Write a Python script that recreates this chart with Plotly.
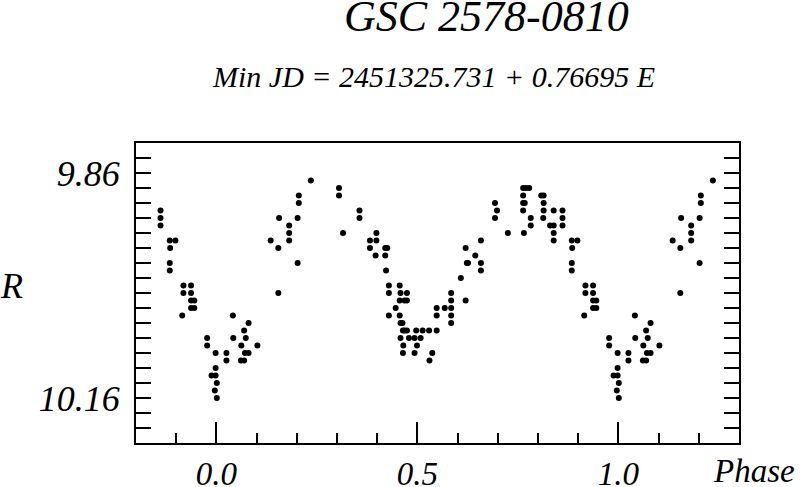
import plotly.graph_objects as go

# Phased light curve of GSC 2578-0810 (phase 0..1, R magnitude)
phase = [
    0.001, 0.001, 0.996, 0.998, 0.998, 0.998, 0.988, 0.977, 0.977,
    0.025, 0.025, 0.041, 0.042, 0.062, 0.069, 0.073, 0.080, 0.071, 0.080,
    0.061, 0.069, 0.102, 0.135, 0.154, 0.156, 0.154, 0.181, 0.181, 0.181,
    0.202, 0.202, 0.205, 0.205, 0.235,
    0.305, 0.305, 0.315, 0.356, 0.356, 0.398, 0.382, 0.398, 0.382,
    0.420, 0.425, 0.396, 0.420, 0.422, 0.429, 0.456,
    0.429, 0.458, 0.474, 0.456, 0.468, 0.474, 0.446, 0.429, 0.456,
    0.458, 0.463, 0.464, 0.468, 0.474, 0.497, 0.513, 0.529, 0.548,
    0.458, 0.479, 0.493, 0.508, 0.465, 0.499, 0.464, 0.493, 0.537, 0.530,
    0.548, 0.568, 0.584, 0.548, 0.584, 0.584, 0.584, 0.584,
    0.608, 0.620, 0.620, 0.623, 0.626, 0.644, 0.658, 0.658, 0.658,
    0.693, 0.698, 0.693, 0.725,
    0.763, 0.770, 0.778, 0.763, 0.763, 0.767, 0.763, 0.782, 0.782, 0.765,
    0.808, 0.814, 0.814, 0.814, 0.813, 0.839, 0.830, 0.839, 0.839, 0.839,
    0.861, 0.861, 0.861, 0.884, 0.898, 0.885, 0.884, 0.884,
    0.918, 0.937, 0.918, 0.937, 0.937, 0.945, 0.937, 0.945, 0.915,
]
mag = [
    10.14, 10.16, 10.15, 10.10, 10.12, 10.13, 10.13, 10.08, 10.09,
    10.10, 10.11, 10.05, 10.08, 10.09, 10.07, 10.08, 10.06, 10.10, 10.10,
    10.11, 10.11, 10.09, 9.95, 9.96, 9.92, 10.02, 9.93, 9.94, 9.95,
    9.92, 9.98, 9.89, 9.90, 9.87,
    9.88, 9.89, 9.94, 9.91, 9.92, 9.94, 9.95, 9.95, 9.96,
    9.96, 9.96, 9.97, 9.97, 9.99, 10.01, 10.01,
    10.02, 10.02, 10.02, 10.03, 10.03, 10.03, 10.04, 10.05, 10.05,
    10.06, 10.06, 10.07, 10.07, 10.07, 10.07, 10.07, 10.07, 10.07,
    10.08, 10.08, 10.08, 10.08, 10.09, 10.09, 10.10, 10.10, 10.10, 10.11,
    10.04, 10.04, 10.04, 10.05, 10.05, 10.06, 10.02, 10.03,
    10.00, 10.03, 9.96, 9.98, 9.98, 9.97, 9.95, 9.98, 9.99,
    9.90, 9.91, 9.92, 9.94,
    9.88, 9.88, 9.88, 9.89, 9.90, 9.90, 9.91, 9.92, 9.93, 9.94,
    9.89, 9.89, 9.90, 9.91, 9.92, 9.91, 9.93, 9.93, 9.94, 9.95,
    9.91, 9.92, 9.93, 9.95, 9.95, 9.96, 9.98, 9.99,
    10.01, 10.01, 10.02, 10.02, 10.03, 10.03, 10.04, 10.04, 10.05,
]

x_tickvals = [0.0, 0.5, 1.0]
x_ticktext = ["0.0", "0.5", "1.0"]
y_tickvals = [9.86, 10.16]
y_ticktext = ["9.86", "10.16"]

title_text = "GSC 2578-0810"
subtitle_text = "Min JD = 2451325.731 + 0.76695 E"
x_label = "Phase"
y_label = "R"

# repeat the cycle on both sides of [0, 1]
xs, ys = [], []
for p, m in zip(phase, mag):
    xs.append(p)
    ys.append(m)
    if p - 1 >= -0.15:
        xs.append(p - 1)
        ys.append(m)
    if p + 1 <= 1.25:
        xs.append(p + 1)
        ys.append(m)

FONT = "Liberation Serif"

fig = go.Figure()
fig.add_trace(go.Scatter(
    x=xs, y=ys, mode="markers",
    marker=dict(size=6, color="black", line=dict(width=0)),
    hoverinfo="skip", showlegend=False,
))

fig.update_layout(
    width=800, height=487,
    margin=dict(l=136, r=61, t=143, b=44, autoexpand=False),
    paper_bgcolor="white", plot_bgcolor="white",
    font=dict(family=FONT, style="italic", color="black", size=36),
    showlegend=False,
)

fig.update_xaxes(
    range=[-0.2, 1.3], automargin=False,
    showgrid=False, zeroline=False,
    showline=True, linewidth=2, linecolor="black", mirror=True,
    ticks="inside", ticklen=21, tickwidth=1.5, tickcolor="black",
    tickvals=x_tickvals, ticktext=x_ticktext,
    tickfont=dict(family=FONT, style="italic", size=33, color="black"),
    ticklabelstandoff=0,
    minor=dict(ticks="inside", ticklen=10, tickwidth=1.5, tickcolor="black",
               dtick=0.1, tick0=0, showgrid=False),
)
fig.update_yaxes(
    range=[10.22, 9.82], automargin=False,
    showgrid=False, zeroline=False,
    showline=True, linewidth=2, linecolor="black", mirror="ticks",
    ticks="inside", ticklen=15, tickwidth=1.5, tickcolor="black",
    tickvals=y_tickvals, ticktext=y_ticktext,
    tickfont=dict(family=FONT, style="italic", size=36, color="black"),
    ticklabelstandoff=7,
    minor=dict(ticks="inside", ticklen=15, tickwidth=1.5, tickcolor="black",
               dtick=0.02, tick0=9.86, showgrid=False),
)

fig.add_annotation(text=title_text, xref="paper", yref="paper",
                   x=0.5805, y=1.421, xanchor="center", yanchor="middle",
                   showarrow=False,
                   font=dict(family=FONT, style="italic", size=44, color="black"))
fig.add_annotation(text=subtitle_text, xref="paper", yref="paper",
                   x=0.494, y=1.221, xanchor="center", yanchor="middle",
                   showarrow=False,
                   font=dict(family=FONT, style="italic", size=30, color="black"))
fig.add_annotation(text=y_label, xref="paper", yref="paper",
                   x=-0.2063, y=0.524, xanchor="center", yanchor="middle",
                   showarrow=False,
                   font=dict(family=FONT, style="italic", size=36, color="black"))
fig.add_annotation(text=x_label, xref="paper", yref="paper",
                   x=1.097, y=-0.093, xanchor="right", yanchor="middle",
                   showarrow=False,
                   font=dict(family=FONT, style="italic", size=33, color="black"))

# remove the default 8 px page margin so the 800x487 figure fills the window
fig.write_html("out.html",
               config={"displayModeBar": False},
               post_script="document.body.style.margin='0';"
                           "document.body.style.overflow='hidden';")
